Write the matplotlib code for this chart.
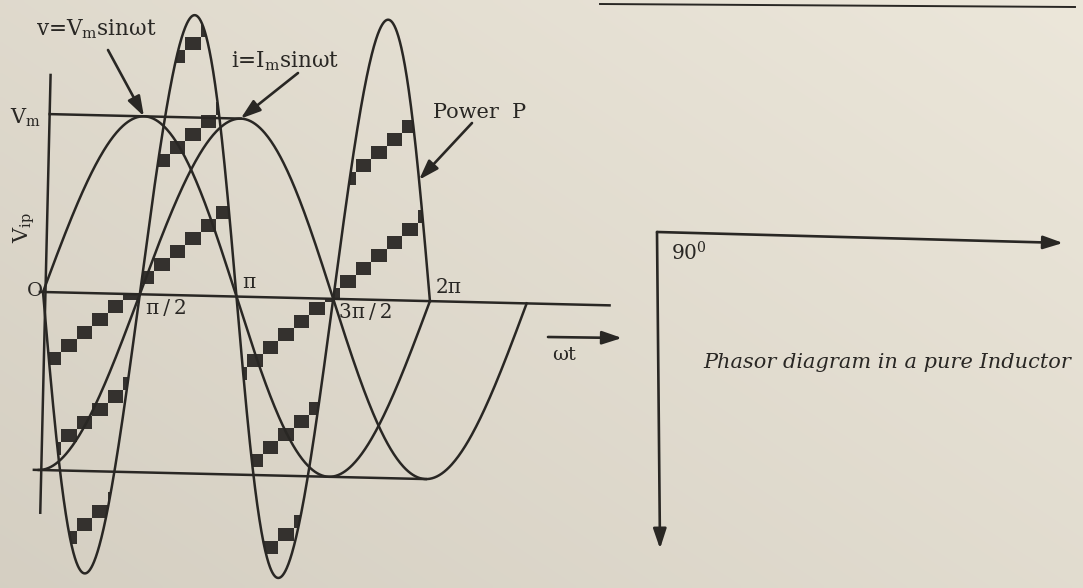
import numpy as np
import matplotlib
matplotlib.use("Agg")
import matplotlib.pyplot as plt
import matplotlib.transforms as mtransforms
from matplotlib.patches import Polygon, Rectangle
from matplotlib.collections import PatchCollection

# ---- waveform quantities ---------------------------------------------------
V_m = 1.0                  # peak voltage (drawing units)
I_m = 1.0                  # peak current, drawn at the same height as V_m
lag = np.pi / 2            # current lags the voltage by 90 degrees
p_scale = 3.15             # drawing scale of the power curve p = v * i
v_span = [0.0, 2 * np.pi]
i_span = [0.0, 2.5 * np.pi]
p_span = [0.0, 2 * np.pi]
axis_span = [-0.05, 9.2]
tick_pos = [np.pi / 2, np.pi, 1.5 * np.pi, 2 * np.pi]
tick_labels = ["π\u2009/\u20092", "π", "3π\u2009/\u20092", "2π"]
tick_side = [-1, 1, -1, 1]          # label below (-1) or above (+1) the axis

# ---- phasor diagram ----------------------------------------------------------
phasor_names = ["V", "I"]
phasor_angle = [0.0, -90.0]
phasor_len = [1.0, 0.78]

# ---- figure / paper ----------------------------------------------------------
W, H = 1083, 588
INK = "#292724"
BLOCK = "#34312e"
SERIF = "DejaVu Serif"
plt.rcParams["mathtext.fontset"] = "dejavuserif"

fig = plt.figure(figsize=(W / 100, H / 100), dpi=100)
pix = mtransforms.Affine2D().scale(1, -1).translate(0, H)   # page pixels, y down

bg = fig.add_axes([0, 0, 1, 1])
bg.set_axis_off()
gx, gy = np.meshgrid(np.linspace(0, 1, 240), np.linspace(0, 1, 130))
shade = np.clip(0.55 * gx + 0.45 * (1 - gy), 0, 1)[..., None]
dark = np.array([0.835, 0.812, 0.762])
light = np.array([0.925, 0.905, 0.855])
bg.imshow(dark + shade * (light - dark), extent=(0, 1, 0, 1), origin="upper",
          aspect="auto", interpolation="bilinear")
bg.set_xlim(0, 1)
bg.set_ylim(0, 1)

# ---- waveform axes -----------------------------------------------------------
ox, oy = 43, 292           # origin O on the page
sx, sy = 61.6, 178         # pixels per radian, pixels per unit
ax = fig.add_axes([0, 0, 1, 1])
ax.set_axis_off()
ax.patch.set_alpha(0)
ax.set_xlim(-ox / sx, (W - ox) / sx)
ax.set_ylim(-(H - oy) / sy, oy / sy)
tr = ax.transData + mtransforms.Affine2D().rotate_deg_around(ox, H - oy, -1.35)


def volt(x):
    return V_m * np.sin(x)


def curr(x):
    return I_m * np.sin(x - lag)


def power(x):
    return p_scale * volt(x) * curr(x)


LW = 1.8
wv = np.linspace(*v_span, 500)
wi = np.linspace(*i_span, 600)
wp = np.linspace(*p_span, 1200)
ax.plot(wv, volt(wv), color=INK, lw=LW, transform=tr)
ax.plot(wi, curr(wi), color=INK, lw=LW, transform=tr)
ax.plot(wp, power(wp), color=INK, lw=LW, transform=tr)

# axes and peak levels
ax.plot(axis_span, [0, 0], color=INK, lw=LW, transform=tr)
ax.plot([0.04, 0.04], [-1.24, 1.22], color=INK, lw=LW, transform=tr)
ax.plot([0.04, np.pi], [V_m, V_m], color=INK, lw=LW, transform=tr)
ax.plot([-0.08, 2 * np.pi], [-V_m, -V_m], color=INK, lw=LW, transform=tr)

# stepped hatching inside each power lobe
hatch_rows = {0: [319, 409, 511], 1: [121, 212, 316], 2: [490, 590, 690], 3: [386, 489]}
step_x, step_y = 15.5, 13.0
for k in range(4):
    xs = np.linspace(k * np.pi / 2, (k + 1) * np.pi / 2, 200)
    lobe = Polygon(np.column_stack([xs, power(xs)]), closed=True, transform=tr,
                   fill=False, edgecolor="none")
    ax.add_patch(lobe)
    blocks = []
    for c in hatch_rows[k]:
        for n in range(-8, 30):
            bx, by = 100 + n * step_x, c - n * step_y
            blocks.append(Rectangle((bx - step_x / 2, by - step_y / 2), step_x, step_y))
    pc = PatchCollection(blocks, transform=pix, facecolor=BLOCK, edgecolor="none")
    ax.add_collection(pc, autolim=False)
    pc.set_clip_path(lobe)

# tick labels on the ωt axis
for pos, lab, side in zip(tick_pos, tick_labels, tick_side):
    ax.annotate(lab, xy=(pos, 0), xycoords=tr, xytext=(6, side * 14),
                textcoords="offset pixels", ha="left", va="center",
                fontsize=14.5, family=SERIF, color=INK)

txt = dict(family=SERIF, color=INK, transform=pix)
ax.text(35, 291, "O", fontsize=14, ha="center", va="center", **txt)
ax.text(10, 118, r"V$_{\mathrm{m}}$", fontsize=15, ha="left", va="center", **txt)
ax.text(24, 228, r"V$_{\mathrm{ip}}$", fontsize=15, ha="center", va="center",
        rotation=90, **txt)
ax.text(564, 355, "ωt", fontsize=14, ha="center", va="center", **txt)
ax.text(96, 29, r"v=V$_{\mathrm{m}}$sinωt", fontsize=15.5, ha="center", va="center", **txt)
ax.text(285, 61, r"i=I$_{\mathrm{m}}$sinωt", fontsize=15.5, ha="center", va="center", **txt)
ax.text(480, 112, "Power  P", fontsize=15, ha="center", va="center", **txt)

arrow = dict(arrowstyle="-|>,head_length=0.6,head_width=0.2", color=INK, lw=1.9,
             shrinkA=0, shrinkB=0, mutation_scale=20)
ax.annotate("", xy=(np.pi / 2, V_m), xycoords=tr, xytext=(108, 50), textcoords=pix,
            arrowprops=arrow)
ax.annotate("", xy=(np.pi, I_m), xycoords=tr, xytext=(298, 73), textcoords=pix,
            arrowprops=arrow)
ax.annotate("", xy=(6.06, power(6.06)), xycoords=tr, xytext=(472, 123), textcoords=pix,
            arrowprops=arrow)
ax.annotate("", xy=(622, 338), xycoords=pix, xytext=(548, 337), textcoords=pix,
            arrowprops=arrow)

# ---- phasor diagram ----------------------------------------------------------
ph_origin = np.array([657.0, 232.0])
ph_scale = 406.0
ph_view = np.array([[1.0, 0.0095], [0.027, 1.0]])     # page perspective
for name, ang, L in zip(phasor_names, phasor_angle, phasor_len):
    th = np.deg2rad(ang)
    end = ph_origin + ph_view @ (ph_scale * L * np.array([np.cos(th), -np.sin(th)]))
    ax.annotate("", xy=tuple(end), xycoords=pix, xytext=tuple(ph_origin), textcoords=pix,
                arrowprops=arrow)
ax.text(671, 253, r"90$^{0}$", fontsize=14.5, ha="left", va="center", **txt)
ax.text(703, 363, "Phasor diagram in a pure Inductor", fontsize=15, style="italic",
        ha="left", va="center", **txt)

# page rule at the top right
ax.plot([600, 1075], [4, 7], color=INK, lw=1.4, transform=pix)

fig.savefig("out.png", dpi=100)
